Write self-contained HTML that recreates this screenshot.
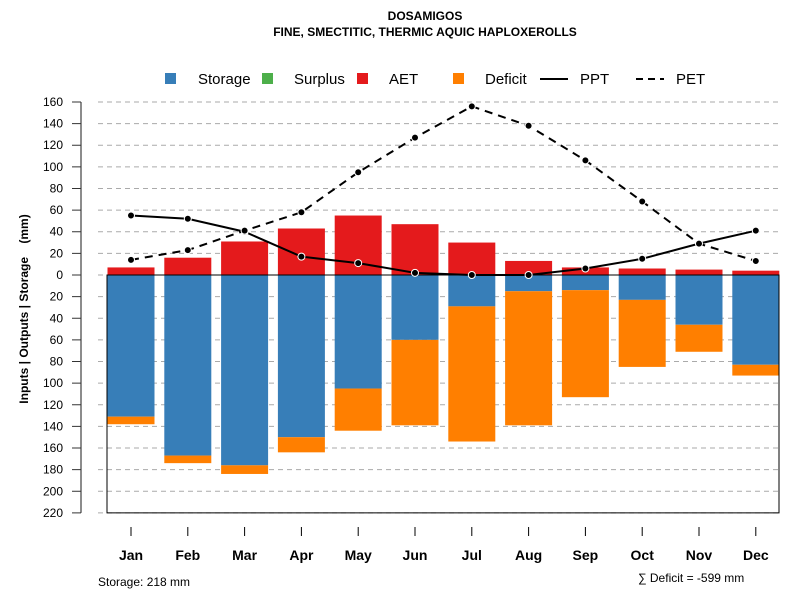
<!DOCTYPE html>
<html><head><meta charset="utf-8"><style>body{margin:0;background:#fff}svg text{font-family:"Liberation Sans",sans-serif}</style></head>
<body>
<svg id="chart" width="800" height="600">
<text x="425" y="20" text-anchor="middle" font-size="12" font-weight="bold">DOSAMIGOS</text>
<text x="425" y="36" text-anchor="middle" font-size="12" font-weight="bold">FINE, SMECTITIC, THERMIC AQUIC HAPLOXEROLLS</text>
<g id="legend">
<rect x="165" y="73" width="11" height="11" fill="#377eb8"/><text x="198" y="84" font-size="15">Storage</text>
<rect x="262" y="73" width="11" height="11" fill="#4daf4a"/><text x="294" y="84" font-size="15">Surplus</text>
<rect x="357" y="73" width="11" height="11" fill="#e41a1c"/><text x="389" y="84" font-size="15">AET</text>
<rect x="453" y="73" width="11" height="11" fill="#ff7f00"/><text x="485" y="84" font-size="15">Deficit</text>
<line x1="540" y1="79" x2="568" y2="79" stroke="#000" stroke-width="2"/><text x="580" y="84" font-size="15">PPT</text>
<line x1="636" y1="79" x2="664" y2="79" stroke="#000" stroke-width="2" stroke-dasharray="7,5"/><text x="676" y="84" font-size="15">PET</text>
</g>
<text transform="translate(28,309) rotate(-90)" text-anchor="middle" font-size="12" font-weight="bold" xml:space="preserve">Inputs | Outputs | Storage    (mm)</text>
<g id="grid"></g><g id="bars"></g><g id="axes"></g><g id="lines"></g>
<text x="98" y="586" font-size="12">Storage: 218 mm</text>
<text x="638" y="582" font-size="12">∑ Deficit = -599 mm</text>
</svg>
<script>
const months=["Jan","Feb","Mar","Apr","May","Jun","Jul","Aug","Sep","Oct","Nov","Dec"];
const aet=[7,16,31,43,55,47,30,13,7,6,5,4];
const storage=[131,167,176,150,105,60,29,15,14,23,46,83];
const deficit=[7,7,8,14,39,79,125,124,99,62,25,10];
const ppt=[55,52,40,17,11,2,0,0,6,15,29,41];
const pet=[14,23,41,58,95,127,156,138,106,68,29,13];
const yTicks=[160,140,120,100,80,60,40,20,0,20,40,60,80,100,120,140,160,180,200,220];
const yTickVals=[160,140,120,100,80,60,40,20,0,-20,-40,-60,-80,-100,-120,-140,-160,-180,-200,-220];
const NS="http://www.w3.org/2000/svg";
const y=v=>275-v*1.0813;
const x=i=>131+i*56.8;
function mk(t,a,p){const e=document.createElementNS(NS,t);for(const k in a)e.setAttribute(k,a[k]);document.getElementById(p).appendChild(e);return e;}
let ax=mk('line',{x1:81,x2:81,y1:y(160),y2:y(-220),stroke:'#666','stroke-width':1.5},'axes');


yTickVals.forEach((v,i)=>{
 let g=mk('line',{x1:98,x2:779,y1:y(v),y2:y(v),stroke:'#aaa','stroke-dasharray':'5,4'},'grid');
 
 
 let t=mk('line',{x1:72,x2:81,y1:y(v),y2:y(v),stroke:'#333'},'axes');
 
 
 let l=mk('text',{x:63,y:y(v)+4,'text-anchor':'end','font-size':12},'axes');l.textContent=yTicks[i];
 
 
});
months.forEach((m,i)=>{
 const cx=x(i),w=47;
 let a=mk('rect',{x:cx-w/2,y:y(aet[i]),width:w,height:y(0)-y(aet[i]),fill:'#e41a1c'},'bars');
 
 
 let s=mk('rect',{x:cx-w/2,y:y(0),width:w,height:y(-storage[i])-y(0),fill:'#377eb8'},'bars');
 
 
 let d=mk('rect',{x:cx-w/2,y:y(-storage[i]),width:w,height:y(-storage[i]-deficit[i])-y(-storage[i]),fill:'#ff7f00'},'bars');
 
 
 let t=mk('line',{x1:cx,x2:cx,y1:527,y2:536,stroke:'#000'},'axes');
 
 
 let l=mk('text',{x:cx,y:560,'text-anchor':'middle','font-size':14,'font-weight':'bold'},'axes');l.textContent=m;
 
 
});
let f=mk('path',{d:`M107 ${y(0)} V${y(-220)} H779 V${y(0)} Z`,fill:'none',stroke:'#000'},'axes');


function series(arr,name,dash){
 let p=mk('polyline',{points:arr.map((v,i)=>x(i)+','+y(v)).join(' '),fill:'none',stroke:'#000','stroke-width':2,'stroke-dasharray':dash},'lines');
 
 
 arr.forEach((v,i)=>{let c=mk('circle',{cx:x(i),cy:y(v),r:3.5,fill:'#000',stroke:'#fff','stroke-width':1},'lines');
  
  });
}
series(ppt,'ppt','none');
series(pet,'pet','8,6');
</script>
</body></html>
